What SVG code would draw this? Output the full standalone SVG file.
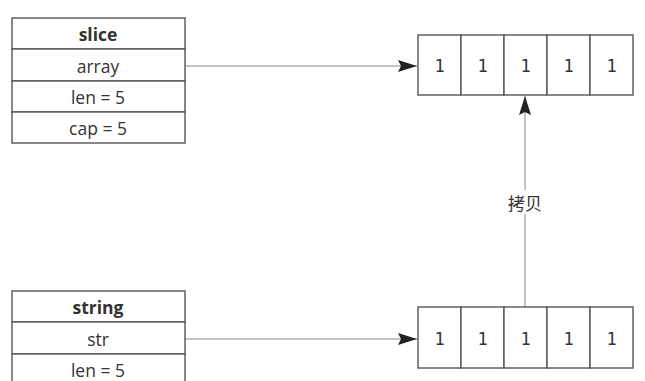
<svg xmlns="http://www.w3.org/2000/svg" width="645" height="381" viewBox="0 0 645 381">
<defs>
<style>
.box{fill:#fff;stroke:#555;stroke-width:1.4}
.t{font-family:"Open Sans","Noto Sans",sans-serif;font-size:17.5px;fill:#333;text-anchor:middle;dominant-baseline:central}
.b{font-weight:bold}
.n{font-family:"DejaVu Sans Mono",monospace;font-size:17px;fill:#333;text-anchor:middle;dominant-baseline:central}
.c{stroke:#c4c4c4;stroke-width:2;fill:none}
.lbl{font-family:"Noto Sans CJK SC","Noto Sans",sans-serif;font-size:17px;fill:#333;text-anchor:middle;dominant-baseline:central}
</style>
<marker id="ah" markerWidth="20" markerHeight="14" refX="19" refY="7" orient="auto" markerUnits="userSpaceOnUse">
<path d="M0,1 L19,7 L0,13 L3,7 Z" fill="#222"/>
</marker>
</defs>
<rect width="645" height="381" fill="#fff"/>
<g id="connectors">
<line class="c" x1="185" y1="66" x2="417" y2="66" marker-end="url(#ah)"/>
<line class="c" x1="185" y1="339" x2="417" y2="339" marker-end="url(#ah)"/>
<line class="c" x1="525" y1="307" x2="525" y2="96" marker-end="url(#ah)"/>
<rect x="503" y="190" width="44" height="24" fill="#fff"/>
<text class="lbl" x="525" y="202">拷贝</text>
</g>
<g id="slice">
<rect class="box" x="12" y="18" width="173" height="31"/>
<rect class="box" x="12" y="49" width="173" height="32"/>
<rect class="box" x="12" y="81" width="173" height="31"/>
<rect class="box" x="12" y="112" width="173" height="31"/>
<text class="t b" x="98" y="34">slice</text>
<text class="t" x="98" y="66">array</text>
<text class="t" x="98" y="97">len = 5</text>
<text class="t" x="98" y="128">cap = 5</text>
</g>
<g id="string">
<rect class="box" x="12" y="291" width="173" height="31"/>
<rect class="box" x="12" y="322" width="173" height="32"/>
<rect class="box" x="12" y="354" width="173" height="31"/>
<text class="t b" x="98" y="307">string</text>
<text class="t" x="98" y="339">str</text>
<text class="t" x="98" y="370">len = 5</text>
</g>
<g id="array-top">
<rect class="box" x="418" y="35" width="43" height="60"/>
<rect class="box" x="461" y="35" width="43" height="60"/>
<rect class="box" x="504" y="35" width="43" height="60"/>
<rect class="box" x="547" y="35" width="43" height="60"/>
<rect class="box" x="590" y="35" width="43" height="60"/>
<text class="n" x="439.5" y="66">1</text>
<text class="n" x="482.5" y="66">1</text>
<text class="n" x="525.5" y="66">1</text>
<text class="n" x="568.5" y="66">1</text>
<text class="n" x="611.5" y="66">1</text>
</g>
<g id="array-bottom">
<rect class="box" x="418" y="307" width="43" height="61"/>
<rect class="box" x="461" y="307" width="43" height="61"/>
<rect class="box" x="504" y="307" width="43" height="61"/>
<rect class="box" x="547" y="307" width="43" height="61"/>
<rect class="box" x="590" y="307" width="43" height="61"/>
<text class="n" x="439.5" y="339">1</text>
<text class="n" x="482.5" y="339">1</text>
<text class="n" x="525.5" y="339">1</text>
<text class="n" x="568.5" y="339">1</text>
<text class="n" x="611.5" y="339">1</text>
</g>
</svg>
